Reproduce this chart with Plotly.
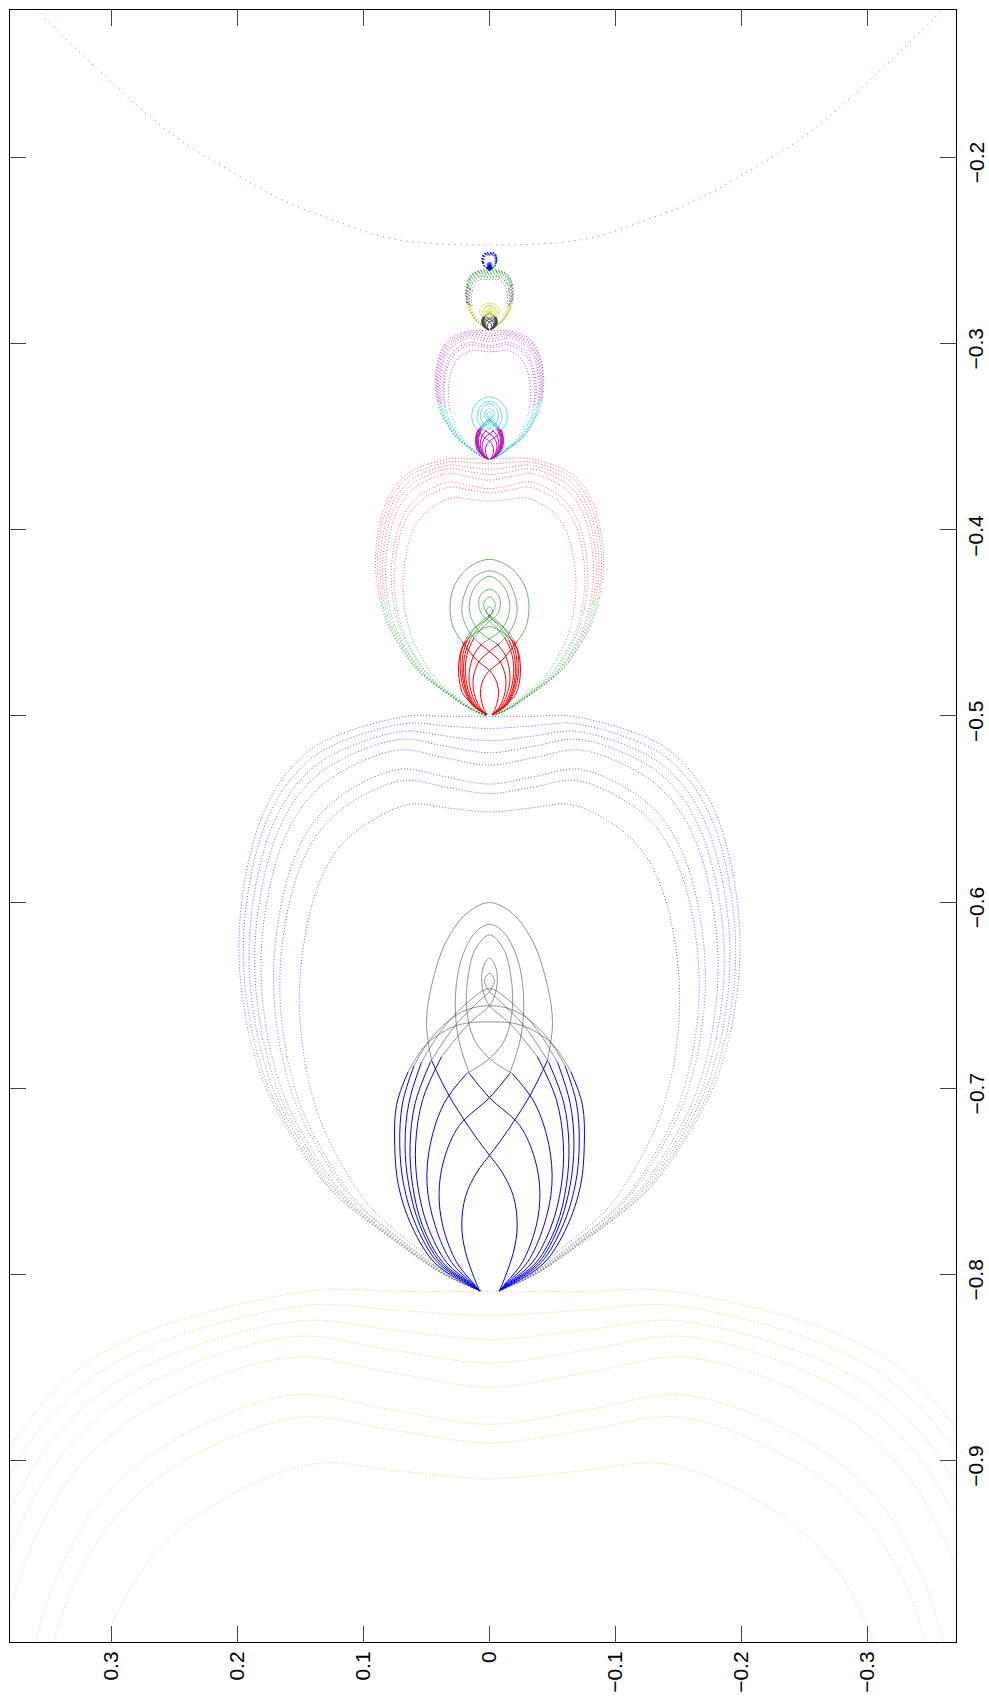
import plotly.graph_objects as go

# ---------------- data ----------------
# horizontal axis = v (positive on the left), vertical axis = u
X_TICKS = [0.3, 0.2, 0.1, 0.0, -0.1, -0.2, -0.3]
X_TICK_TEXT = ["0.3", "0.2", "0.1", "0", "\u22120.1", "\u22120.2", "\u22120.3"]
Y_TICKS = [-0.9, -0.8, -0.7, -0.6, -0.5, -0.4, -0.3, -0.2]
Y_TICK_TEXT = ["\u22120.9", "\u22120.8", "\u22120.7", "\u22120.6", "\u22120.5", "\u22120.4", "\u22120.3", "\u22120.2"]

# red dotted arc at the top (right half, mirrored)
ARC_V = [0.362, 0.355, 0.300, 0.251, 0.200, 0.164, 0.124, 0.076, 0.000]
ARC_U = [-0.1180, -0.1237, -0.1595, -0.1881, -0.2096, -0.2230, -0.2337, -0.2439, -0.2471]

# big dotted oval outline (left half from the foot to the shoulder), as fractions of width / height
OVAL_TV = [0.040, 0.182, 0.362, 0.632, 0.789, 0.901, 0.965, 0.995, 0.995, 0.955, 0.894, 0.804, 0.670]
OVAL_TU = [0.000, 0.028, 0.0811, 0.1748, 0.2691, 0.3632, 0.4575, 0.5516, 0.6456, 0.7575, 0.8385, 0.9034, 0.9540]
# the eight ovals of the blue/grey family
OVAL_W = [0.1990, 0.1955, 0.1910, 0.1865, 0.1815, 0.1715, 0.1665, 0.1510]
OVAL_SHOULDER_V = [0.066, 0.067, 0.069, 0.071, 0.072, 0.071, 0.069, 0.064]
OVAL_SHOULDER_U = [-0.5002, -0.5041, -0.5083, -0.5126, -0.5183, -0.5286, -0.5347, -0.5475]
OVAL_DIP_U = [-0.5002, -0.5067, -0.5133, -0.5198, -0.5264, -0.5366, -0.5417, -0.5515]
DIP_MID_FRAC = 0.5
L1_FOOT_U = -0.8086

# the levels of the self-similar stack (yellow, blue/grey, red/green, magenta/cyan, grey/yellow, blue/green)
LEVEL_FOOT_U = [-1.4135, -0.8086, -0.4997, -0.3620, -0.2925, -0.2605]
LEVEL_SX = [2.20, 1.000, 0.455, 0.2167, 0.0952, 0.030]
LEVEL_SY = [1.96, 1.000, 0.4475, 0.2237, 0.1038, 0.0305]
LEVEL_UPPER = ["#BFBF00", "#0000FF", "#FF0000", "#BF00BF", "#404040", "#0000FF"]
LEVEL_LOWER = [None, "#404040", "#008000", "#00BFBF", "#BFBF00", "#008000"]
LEVEL_CAP = [None, None, None, None, "#008000", None]
LEVEL_DOT_OPACITY = [0.55, 0.6, 0.6, 0.75, 0.85, 1.0]

# inner loops of the blue/grey family (left foot -> apex)
L1_LOOP_V = [
    [0.008, 0.012, 0.019, 0.022, 0.019, 0.010, 0.0, -0.012, -0.032, -0.046, -0.050, -0.046, -0.035, -0.018, 0.0],
    [0.008, 0.013, 0.026, 0.037, 0.040, 0.036, 0.024, 0.0, -0.016, -0.025, -0.027, -0.022, -0.011, 0.0],
    [0.008, 0.014, 0.030, 0.043, 0.0495, 0.047, 0.036, 0.018, 0.0, -0.012, -0.018, -0.017, -0.011, 0.0],
    [0.008, 0.015, 0.034, 0.049, 0.057, 0.0586, 0.053, 0.038, 0.016, 0.0, -0.005, -0.006, -0.003, 0.0],
    [0.008, 0.016, 0.037, 0.053, 0.061, 0.063, 0.059, 0.047, 0.027, 0.008, 0.0, -0.004, 0.0],
    [0.008, 0.017, 0.039, 0.055, 0.064, 0.067, 0.064, 0.054, 0.036, 0.014, 0.0],
    [0.008, 0.018, 0.041, 0.058, 0.068, 0.0712, 0.069, 0.060, 0.045, 0.022, 0.0],
    [0.008, 0.0191, 0.0434, 0.0616, 0.0722, 0.0752, 0.0737, 0.0646, 0.0494, 0.0252, 0.0],
]
L1_LOOP_U = [
    [-0.8086, -0.8020, -0.7880, -0.7740, -0.7580, -0.7450, -0.7360, -0.7250, -0.7040, -0.6850, -0.6650, -0.6450, -0.6220, -0.6060, -0.6002],
    [-0.8086, -0.8045, -0.7935, -0.7740, -0.7560, -0.7380, -0.7200, -0.7050, -0.6920, -0.6720, -0.6500, -0.6300, -0.6160, -0.6119],
    [-0.8086, -0.8045, -0.7935, -0.7740, -0.7520, -0.7300, -0.7080, -0.6920, -0.6840, -0.6740, -0.6580, -0.6400, -0.6250, -0.6176],
    [-0.8086, -0.8045, -0.7935, -0.7740, -0.7520, -0.7300, -0.7060, -0.6830, -0.6650, -0.6556, -0.6480, -0.6380, -0.6320, -0.6301],
    [-0.8086, -0.8045, -0.7935, -0.7740, -0.7520, -0.7300, -0.7080, -0.6860, -0.6660, -0.6530, -0.6480, -0.6420, -0.6383],
    [-0.8086, -0.8045, -0.7935, -0.7740, -0.7520, -0.7300, -0.7080, -0.6860, -0.6670, -0.6520, -0.6464],
    [-0.8086, -0.8045, -0.7935, -0.7740, -0.7520, -0.7300, -0.7080, -0.6880, -0.6720, -0.6590, -0.6556],
    [-0.8086, -0.8047, -0.7937, -0.7741, -0.7523, -0.7305, -0.7087, -0.6912, -0.6759, -0.6661, -0.6643],
]
L1_LEG_SPLIT_U = -0.700

# inner loops of the red/green family (left foot -> apex)
L2_LOOP_V = [
    [0.002, 0.0039, 0.0062, 0.0072, 0.0062, 0.0033, 0.0, -0.010, -0.022, -0.029, -0.0313, -0.029, -0.021, -0.011, 0.0],
    [0.002, 0.0043, 0.0085, 0.0121, 0.0131, 0.0118, 0.0078, 0.0, -0.008, -0.016, -0.0218, -0.020, -0.013, 0.0],
    [0.002, 0.0046, 0.0098, 0.0141, 0.0162, 0.0154, 0.0118, 0.0059, 0.0, -0.009, -0.0159, -0.014, -0.008, 0.0],
    [0.002, 0.0049, 0.0111, 0.0160, 0.0186, 0.0192, 0.0173, 0.0124, 0.0052, 0.0, -0.006, -0.0086, -0.007, 0.0],
    [0.002, 0.0052, 0.0121, 0.0173, 0.0199, 0.0206, 0.0193, 0.0154, 0.0088, 0.0026, 0.0, -0.0046, -0.003, 0.0],
    [0.002, 0.0056, 0.0128, 0.0180, 0.0209, 0.0219, 0.0209, 0.0177, 0.0118, 0.0046, 0.0, -0.0026, 0.0],
    [0.002, 0.0059, 0.0134, 0.0190, 0.0222, 0.0233, 0.0226, 0.0196, 0.0147, 0.0072, 0.001, 0.0],
    [0.002, 0.0127, 0.0206, 0.0233, 0.0246, 0.0219, 0.0153, 0.0074, 0.0],
]
L2_LOOP_U = [
    [-0.4993, -0.4971, -0.4926, -0.4880, -0.4828, -0.4785, -0.4756, -0.4700, -0.4600, -0.4520, -0.4420, -0.4320, -0.4230, -0.4180, -0.4159],
    [-0.4993, -0.4980, -0.4944, -0.4880, -0.4821, -0.4762, -0.4703, -0.4654, -0.4610, -0.4550, -0.4450, -0.4350, -0.4260, -0.4221],
    [-0.4993, -0.4980, -0.4944, -0.4880, -0.4808, -0.4736, -0.4664, -0.4612, -0.4586, -0.4540, -0.4440, -0.4340, -0.4280, -0.4250],
    [-0.4993, -0.4980, -0.4944, -0.4880, -0.4808, -0.4736, -0.4657, -0.4582, -0.4523, -0.4493, -0.4455, -0.4400, -0.4350, -0.4319],
    [-0.4993, -0.4980, -0.4944, -0.4880, -0.4808, -0.4736, -0.4664, -0.4592, -0.4527, -0.4484, -0.4468, -0.4410, -0.4375, -0.4360],
    [-0.4993, -0.4980, -0.4944, -0.4880, -0.4808, -0.4736, -0.4664, -0.4592, -0.4530, -0.4481, -0.4460, -0.4435, -0.4413],
    [-0.4993, -0.4980, -0.4944, -0.4880, -0.4808, -0.4736, -0.4664, -0.4599, -0.4546, -0.4504, -0.4475, -0.4455],
    [-0.4993, -0.4940, -0.4886, -0.4833, -0.4743, -0.4636, -0.4574, -0.4539, -0.4520],
]
L2_FOOT_U = -0.4993
L2_LEG_SPLIT_U = -0.462

# smaller loop families, as copies of the red/green loops
SMALL_LOOP_FOOT_U = [-0.3620, -0.2925, -0.2605]
SMALL_LOOP_SX = [0.45, 0.25, 0.07]
SMALL_LOOP_SY = [0.40, 0.17, 0.05]
SMALL_LOOP_LEG = ["#BF00BF", "#404040", "#0000FF"]
SMALL_LOOP_TOP = ["#00BFBF", "#BFBF00", "#0000FF"]

# ---------------- drawing ----------------
fig = go.Figure()
DOT = "1px,2px"
SMOOTH = 1.0


def add_path(v, u, color, dash=None, width=1.0, opacity=1.0):
    if len(v) < 2:
        return
    fig.add_trace(go.Scatter(
        x=v, y=u, mode="lines", hoverinfo="skip", showlegend=False, opacity=opacity,
        line=dict(color=color, width=width, dash=dash, shape="spline", smoothing=SMOOTH),
    ))


def full_path(hv, hu):
    v = list(hv) + [-x for x in reversed(hv[:-1])]
    u = list(hu) + list(reversed(hu[:-1]))
    return v, u


def split_at(v, u, cuts):
    n = len(v)
    idx = [0] + list(cuts) + [n - 1 - c for c in reversed(cuts)] + [n - 1]
    segs = []
    for a, b in zip(idx[:-1], idx[1:]):
        segs.append((v[a:b + 1], u[a:b + 1]))
    return segs


# dotted ovals
I_LOW = 6   # template index where lower colour gives way to upper colour
I_CAP = 9
for L in range(len(LEVEL_FOOT_U)):
    sx, sy, foot = LEVEL_SX[L], LEVEL_SY[L], LEVEL_FOOT_U[L]
    for k in range(len(OVAL_W)):
        hv = [tv * OVAL_W[k] for tv in OVAL_TV]
        hu = [L1_FOOT_U + tu * (OVAL_SHOULDER_U[k] - L1_FOOT_U) for tu in OVAL_TU]
        hv += [OVAL_SHOULDER_V[k], OVAL_SHOULDER_V[k] * DIP_MID_FRAC, 0.0]
        hu += [OVAL_SHOULDER_U[k],
               OVAL_SHOULDER_U[k] + (OVAL_DIP_U[k] - OVAL_SHOULDER_U[k]) * DIP_MID_FRAC,
               OVAL_DIP_U[k]]
        hv = [x * sx for x in hv]
        hu = [foot + (y - L1_FOOT_U) * sy for y in hu]
        v, u = full_path(hv, hu)
        if LEVEL_CAP[L]:
            segs = split_at(v, u, [I_LOW, I_CAP])
            cols = [LEVEL_LOWER[L], LEVEL_UPPER[L], LEVEL_CAP[L], LEVEL_UPPER[L], LEVEL_LOWER[L]]
        else:
            segs = split_at(v, u, [I_LOW])
            cols = [LEVEL_LOWER[L], LEVEL_UPPER[L], LEVEL_LOWER[L]]
        for (sv, su), c in zip(segs, cols):
            if c:
                add_path(sv, su, c, dash=DOT, width=1.0, opacity=LEVEL_DOT_OPACITY[L])


def draw_loops(loops_v, loops_u, split_u, leg_col, top_col, tf=None):
    tops, legs = [], []
    for hv, hu in zip(loops_v, loops_u):
        i = next(n for n, y in enumerate(hu) if y >= split_u)
        v, u = full_path(hv, hu)
        if tf:
            v, u = tf(v, u)
        s = split_at(v, u, [i])
        legs += [s[0], s[2]]
        tops.append(s[1])
    for sv, su in tops:
        add_path(sv, su, top_col, width=0.8, opacity=0.7)
    for sv, su in legs:
        add_path(sv, su, leg_col, width=1.0)


draw_loops(L1_LOOP_V, L1_LOOP_U, L1_LEG_SPLIT_U, "#0000FF", "#404040")
draw_loops(L2_LOOP_V, L2_LOOP_U, L2_LEG_SPLIT_U, "#FF0000", "#008000")
for m in range(len(SMALL_LOOP_FOOT_U)):
    def tf(v, u, m=m):
        return ([x * SMALL_LOOP_SX[m] for x in v],
                [SMALL_LOOP_FOOT_U[m] + (y - L2_FOOT_U) * SMALL_LOOP_SY[m] for y in u])
    draw_loops(L2_LOOP_V, L2_LOOP_U, L2_LEG_SPLIT_U, SMALL_LOOP_LEG[m], SMALL_LOOP_TOP[m], tf)

# red arc
av, au = full_path(ARC_V, ARC_U)
add_path(av, au, "#FF0000", dash="1px,5px", width=1.0, opacity=0.7)

FONT = dict(family="Liberation Sans, Arial, Helvetica, sans-serif", size=21, color="black")
fig.update_layout(
    width=989, height=1702,
    margin=dict(l=10, r=33, t=9, b=54),
    paper_bgcolor="white", plot_bgcolor="white", showlegend=False,
)
fig.update_xaxes(
    range=[0.3804, -0.3701], tickmode="array", tickvals=X_TICKS, ticktext=X_TICK_TEXT,
    tickangle=-90, ticks="inside", ticklen=16, tickwidth=1, tickcolor="#444",
    showline=True, linewidth=1, linecolor="black", mirror="ticks",
    showgrid=False, zeroline=False, tickfont=FONT,
)
fig.update_yaxes(
    range=[-0.9973, -0.1209], side="right", tickmode="array", tickvals=Y_TICKS,
    ticktext=[""] * len(Y_TICKS),
    ticks="inside", ticklen=16, tickwidth=1, tickcolor="#444",
    showline=True, linewidth=1, linecolor="black", mirror="ticks",
    showgrid=False, zeroline=False, showticklabels=False,
)
# right-hand tick labels, turned like the reference
for val, txt in zip(Y_TICKS, Y_TICK_TEXT):
    fig.add_annotation(
        x=1, xref="paper", y=val, yref="y", text=txt, textangle=-90, showarrow=False,
        xanchor="center", yanchor="middle", xshift=20, yshift=-6, font=FONT,
    )
fig.write_html("out.html")
